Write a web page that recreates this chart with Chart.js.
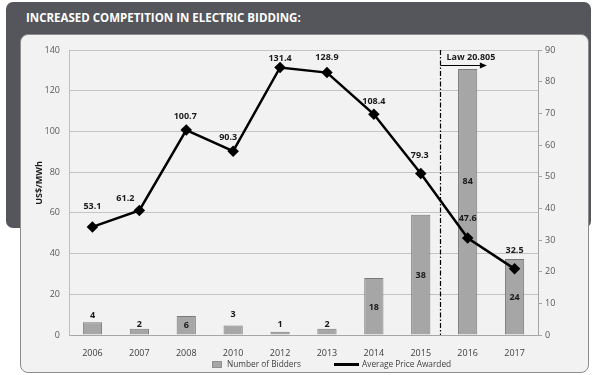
<!DOCTYPE html>
<html><head><meta charset="utf-8">
<script src="https://cdn.jsdelivr.net/npm/chart.js@4.4.0/dist/chart.umd.min.js"></script>
<style>
html,body{margin:0;padding:0;background:#fff;width:592px;height:375px;overflow:hidden;}
#band{position:absolute;left:6px;top:2px;width:585px;height:226px;background:#54565b;border-radius:7px;}
#title{position:absolute;left:26px;top:9px;color:#fff;font-family:'Open Sans';font-weight:bold;font-size:12.5px;white-space:nowrap;transform:scaleX(0.92);transform-origin:left center;}
#panel{position:absolute;left:20px;top:34px;width:569px;height:339px;background:#f2f2f2;border:1px solid #8c8c8c;border-radius:8px;box-sizing:border-box;}
canvas{position:absolute;left:0;top:0;}
</style></head>
<body>
<div id="band"></div>
<div id="title">INCREASED COMPETITION IN ELECTRIC BIDDING:</div>
<div id="panel"></div>
<canvas id="c" width="592" height="375"></canvas>
<script>
const years = ['2006','2007','2008','2010','2012','2013','2014','2015','2016','2017'];
const bidders = [4, 2, 6, 3, 1, 2, 18, 38, 84, 24];
const avgPrice = [53.1, 61.2, 100.7, 90.3, 131.4, 128.9, 108.4, 79.3, 47.6, 32.5];
const priceTicks = [0, 20, 40, 60, 80, 100, 120, 140];
const bidderTicks = [0, 10, 20, 30, 40, 50, 60, 70, 80, 90];
const yTitle = 'US$/MWh';
const lawLabel = 'Law 20.805';
const seriesNames = ['Average Price Awarded', 'Number of Bidders'];

// label placement (styling only)
const barLabelDy = [-7, -4, 9, -11, -7, -4, 29, 61, 112, 38];
const priceLabelOff = [[0,-20],[-14,-12],[-1,-14],[-5,-14],[0,-9],[0,-15],[0,-13],[-1,-18],[0,-20],[0,-18]];
const lawAt = 7.4, lawArrowTo = 8.41;

const overlay = {
  id: 'overlay',
  afterDraw(chart) {
    const ctx = chart.ctx, xs = chart.scales.x, area = chart.chartArea;
    ctx.save();
    ctx.font = 'bold 9px "Open Sans"';
    ctx.fillStyle = '#1a1a1a';
    ctx.textAlign = 'center';
    ctx.textBaseline = 'middle';
    chart.getDatasetMeta(1).data.forEach((el, i) => {
      ctx.fillText(String(bidders[i]), el.x, el.y + barLabelDy[i]);
    });
    chart.getDatasetMeta(0).data.forEach((el, i) => {
      ctx.fillText(avgPrice[i].toFixed(1), el.x + priceLabelOff[i][0], el.y + priceLabelOff[i][1]);
    });
    // law line
    const lx = Math.round(xs.getPixelForValue(lawAt)) + 0.5;
    ctx.strokeStyle = '#000';
    ctx.lineWidth = 1.2;
    ctx.setLineDash([5, 2, 1.5, 2]);
    ctx.beginPath(); ctx.moveTo(lx, area.top); ctx.lineTo(lx, area.bottom); ctx.stroke();
    ctx.setLineDash([]);
    const ax2 = xs.getPixelForValue(lawArrowTo);
    const ay = Math.round(area.top + 15) + 0.5;
    ctx.lineWidth = 1;
    ctx.beginPath(); ctx.moveTo(lx, ay); ctx.lineTo(ax2 - 5, ay); ctx.stroke();
    ctx.fillStyle = '#000';
    ctx.beginPath(); ctx.moveTo(ax2, ay); ctx.lineTo(ax2 - 7, ay - 3); ctx.lineTo(ax2 - 7, ay + 3); ctx.closePath(); ctx.fill();
    ctx.fillStyle = '#1a1a1a';
    ctx.textAlign = 'left';
    ctx.fillText(lawLabel, lx + 6, area.top + 7);
    // y title
    ctx.save();
    ctx.translate(39, 183); ctx.rotate(-Math.PI / 2);
    ctx.textAlign = 'center';
    ctx.fillText(yTitle, 0, 0);
    ctx.restore();
    // legend
    ctx.font = '8.3px "Open Sans"';
    ctx.fillStyle = '#a6a6a6';
    ctx.fillRect(212, 361, 10, 7);
    ctx.strokeStyle = '#909090';
    ctx.strokeRect(212.5, 361.5, 9, 6);
    ctx.fillStyle = '#404040';
    ctx.textAlign = 'left';
    ctx.fillText(seriesNames[1], 227, 364.5);
    ctx.strokeStyle = '#000'; ctx.lineWidth = 3;
    ctx.beginPath(); ctx.moveTo(334, 364.5); ctx.lineTo(359, 364.5); ctx.stroke();
    ctx.fillText(seriesNames[0], 362, 364.5);
    // x labels
    ctx.font = '9px "Open Sans"';
    ctx.fillStyle = '#404040';
    ctx.textAlign = 'center';
    years.forEach((y, i) => ctx.fillText(y, xs.getPixelForValue(i), area.bottom + 18));
    ctx.restore();
  }
};

new Chart(document.getElementById('c'), {
  data: {
    labels: years,
    datasets: [
      { type: 'line', label: seriesNames[0], data: avgPrice, yAxisID: 'y', order: 0,
        borderColor: '#000', backgroundColor: '#000', borderWidth: 2.5, tension: 0,
        pointStyle: 'rectRot', pointRadius: 4, pointBackgroundColor: '#000', pointBorderColor: '#000' },
      { type: 'bar', label: seriesNames[1], data: bidders, yAxisID: 'y1', order: 1,
        backgroundColor: '#a6a6a6', borderColor: '#7a7a7a', borderWidth: 1,
        barPercentage: 0.41, categoryPercentage: 1 }
    ]
  },
  options: {
    responsive: false, animation: false, devicePixelRatio: 1,
    layout: { padding: { left: 26, right: 20, top: 50, bottom: 16 } },
    plugins: { legend: { display: false }, tooltip: { enabled: false } },
    scales: {
      x: {
        grid: { display: false },
        border: { display: true, color: '#a6a6a6' },
        ticks: { display: false },
        afterFit(s) { s.height = 24; }
      },
      y: {
        position: 'left',
        min: priceTicks[0], max: priceTicks[priceTicks.length - 1],
        afterBuildTicks(s) { s.ticks = priceTicks.map(v => ({ value: v })); },
        grid: { color: '#c4c4c4', drawTicks: false },
        border: { display: true, color: '#bfbfbf' },
        ticks: { color: '#595959', font: { family: 'Open Sans', size: 9 }, padding: 9 },
        afterFit(s) { s.width = 43; }
      },
      y1: {
        position: 'right',
        min: bidderTicks[0], max: bidderTicks[bidderTicks.length - 1],
        afterBuildTicks(s) { s.ticks = bidderTicks.map(v => ({ value: v })); },
        grid: { drawOnChartArea: false, drawTicks: true, tickLength: 4, color: '#a6a6a6' },
        border: { display: true, color: '#a6a6a6' },
        ticks: { color: '#595959', font: { family: 'Open Sans', size: 9 }, padding: 3 },
        afterFit(s) { s.width = 34; }
      }
    }
  },
  plugins: [overlay]
});
</script>
</body></html>
